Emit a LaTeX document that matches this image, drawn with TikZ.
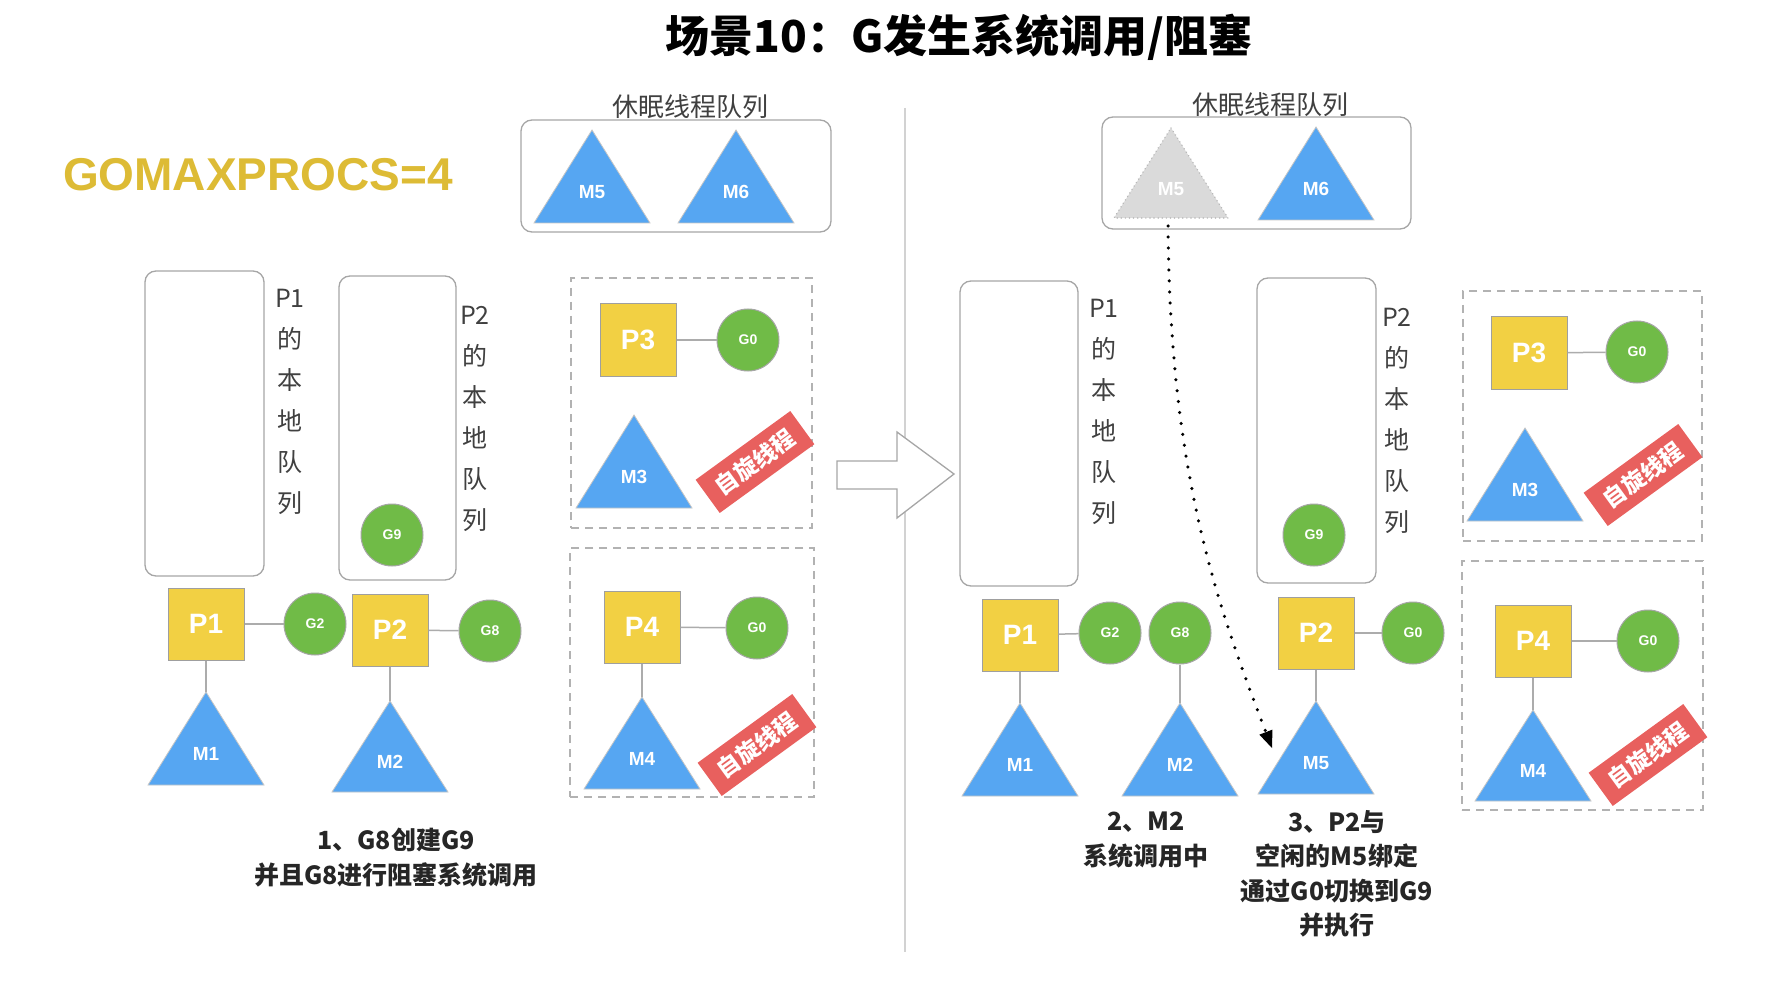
\documentclass[tikz,border=0pt]{standalone}
\usepackage{fontspec}
\setmainfont{Noto Sans CJK SC}
\newfontfamily\lat{Liberation Sans}
\usetikzlibrary{arrows.meta}
\definecolor{pyellow}{HTML}{F2D043}
\definecolor{ggreen}{HTML}{70BB47}
\definecolor{mblue}{HTML}{56A6F2}
\definecolor{bred}{HTML}{E8605E}
\definecolor{gold}{HTML}{DDBB35}
\definecolor{sleepgray}{HTML}{DADADA}
\tikzset{
 pbox/.style={draw=gray!75, line width=1pt, fill=pyellow, minimum width=76pt, minimum height=72pt, inner sep=0pt, text=white, font=\lat\bfseries\fontsize{28}{30}\selectfont},
 gcirc/.style={circle, draw=gray!70, line width=1pt, fill=ggreen, minimum size=62pt, inner sep=0pt, text=white, font=\lat\bfseries\fontsize{14}{16}\selectfont},
 link/.style={draw=gray!65, line width=1.5pt},
 queue/.style={draw=gray!70, line width=1.3pt, rounded corners=11pt, inner sep=0pt},
 spinbox/.style={draw=gray!60, line width=1.5pt, dash pattern=on 8pt off 6pt, inner sep=0pt},
 vtext/.style={align=center, font=\fontsize{25}{41}\selectfont, text=black!75, inner sep=0pt},
 mlab/.style={text=white, font=\lat\bfseries\fontsize{19}{20}\selectfont},
 banner/.style={fill=bred, text=white, rotate=36, minimum width=117pt, minimum height=41pt, inner sep=0pt, font=\bfseries\fontsize{23}{24}\selectfont},
 note/.style={align=center, font=\bfseries\fontsize{25}{35}\selectfont, text=black!85},
 sleeplab/.style={font=\fontsize{26}{28}\selectfont, text=black!75},
}
% #1 name of apex coordinate, #2 apex x, #3 apex y, #4 bottom y, #5 label
\newcommand{\MTri}[5]{%
  \fill[mblue, draw=gray!45, line width=0.8pt] (#2,#3) -- ({#2+58},#4) -- ({#2-58},#4) -- cycle;
  \coordinate (#1) at (#2,#3);
  \node[mlab] (#1lab) at (#2,{#3+0.67*(#4-#3)}) {#5};
}
\begin{document}
\begin{tikzpicture}[x=1pt, y=-1pt]
\useasboundingbox[fill=white] (0,0) rectangle (1778,984);

% title and header
\node[font=\bfseries\fontsize{44}{48}\selectfont] (title) at (959,37) {场景10：G发生系统调用/阻塞};
\node[font=\lat\bfseries\fontsize{46}{50}\selectfont, text=gold] (gmp) at (258,175) {GOMAXPROCS=4};

% divider
\coordinate (divtop) at (905,108);
\coordinate (divbot) at (905,952);
\draw[gray!35, line width=1.5pt] (divtop) -- (divbot);

% hollow arrow
\draw[fill=white, draw=gray!70, line width=1.3pt] (837,461) -- (897,461) -- (897,432) -- (954,474) -- (897,518) -- (897,489) -- (837,489) -- cycle;

% ===== LEFT =====
\node[sleeplab] (sl1) at (690,107) {休眠线程队列};
\node[queue, minimum width=310pt, minimum height=112pt] (sleepL) at (676,176) {};
\MTri{m5L}{592}{130}{223}{M5}
\MTri{m6L}{736}{130}{223}{M6}

\node[queue, minimum width=119pt, minimum height=305pt] (q1L) at (204.5,423.5) {};
\node[vtext] (q1Ltxt) at (290,402) {P1\\的\\本\\地\\队\\列};
\node[queue, minimum width=117pt, minimum height=304pt] (q2L) at (397.5,428) {};
\node[vtext] (q2Ltxt) at (475,419) {P2\\的\\本\\地\\队\\列};
\node[gcirc] (g9L) at (392,535) {G9};

\node[pbox] (p1L) at (206,624) {P1};
\node[gcirc] (g2L) at (315,624) {G2};
\node[pbox] (p2L) at (390,630) {P2};
\node[gcirc] (g8L) at (490,631) {G8};
\MTri{m1L}{206}{692}{785}{M1}
\MTri{m2L}{390}{701}{792}{M2}
\draw[link] (p1L) -- (g2L);
\draw[link] (p2L) -- (g8L);
\draw[link] (p1L.south) -- (m1L);
\draw[link] (p2L.south) -- (m2L);

\node[spinbox, minimum width=241pt, minimum height=250pt] (s3L) at (691.5,403) {};
\node[pbox] (p3L) at (638,340) {P3};
\node[gcirc] (g03L) at (748,340) {G0};
\draw[link] (p3L) -- (g03L);
\MTri{m3L}{634}{415}{508}{M3}
\node[banner] (b3L) at (755,462) {自旋线程};

\node[spinbox, minimum width=244pt, minimum height=249pt] (s4L) at (692,672.5) {};
\node[pbox] (p4L) at (642,627) {P4};
\node[gcirc] (g04L) at (757,628) {G0};
\draw[link] (p4L) -- (g04L);
\MTri{m4L}{642}{697}{789}{M4}
\draw[link] (p4L.south) -- (m4L);
\node[banner] (b4L) at (757,745) {自旋线程};

\node[note] (n1) at (396,858) {1、G8创建G9\\并且G8进行阻塞系统调用};

% ===== RIGHT =====
\node[sleeplab] (sl2) at (1270,105) {休眠线程队列};
\node[queue, minimum width=309pt, minimum height=112pt] (sleepR) at (1256.5,173) {};
\fill[sleepgray, draw=gray!55, line width=1.6pt, dash pattern=on 0.1pt off 4pt, line cap=round] (1171,128) -- (1228,218) -- (1114,218) -- cycle;
\node[mlab] (m5Rglab) at (1171,189) {M5};
\coordinate (m5Rgbot) at (1168,226);
\MTri{m6R}{1316}{127}{220}{M6}

\node[queue, minimum width=118pt, minimum height=305pt] (q1R) at (1019,433.5) {};
\node[vtext] (q1Rtxt) at (1104,412) {P1\\的\\本\\地\\队\\列};
\node[queue, minimum width=119pt, minimum height=305pt] (q2R) at (1316.5,430.5) {};
\node[vtext] (q2Rtxt) at (1397,421) {P2\\的\\本\\地\\队\\列};
\node[gcirc] (g9R) at (1314,535) {G9};

\node[pbox] (p1R) at (1020,635) {P1};
\node[gcirc] (g2R) at (1110,633) {G2};
\node[gcirc] (g8R) at (1180,633) {G8};
\node[pbox] (p2R) at (1316,633) {P2};
\node[gcirc] (g0R) at (1413,633) {G0};
\MTri{m1R}{1020}{703}{796}{M1}
\MTri{m2R}{1180}{703}{796}{M2}
\MTri{m5R}{1316}{701}{794}{M5}
\draw[link] (p1R) -- (g2R);
\draw[link] (p2R) -- (g0R);
\draw[link] (p1R.south) -- (m1R);
\draw[link] (g8R.south) -- (m2R);
\draw[link] (p2R.south) -- (m5R);

\node[spinbox, minimum width=239pt, minimum height=250pt] (s3R) at (1582.5,416) {};
\node[pbox] (p3R) at (1529,353) {P3};
\node[gcirc] (g03R) at (1637,352) {G0};
\draw[link] (p3R) -- (g03R);
\MTri{m3R}{1525}{428}{521}{M3}
\node[banner] (b3R) at (1643,475) {自旋线程};

\node[spinbox, minimum width=241pt, minimum height=249pt] (s4R) at (1582.5,685.5) {};
\node[pbox] (p4R) at (1533,641) {P4};
\node[gcirc] (g04R) at (1648,641) {G0};
\draw[link] (p4R) -- (g04R);
\MTri{m4R}{1533}{710}{801}{M4}
\draw[link] (p4R.south) -- (m4R);
\node[banner] (b4R) at (1648,755) {自旋线程};

% dotted arrow
\coordinate (m5Rin) at (1272,748);
\draw[black, line width=3.5pt, line cap=round, dash pattern=on 0pt off 11pt, -{Triangle[length=17pt,width=14pt,line width=0pt]}] (m5Rgbot) .. controls (1170,470) and (1215,600) .. (m5Rin);

\node[note] (n2) at (1146,840) {2、M2\\系统调用中};
\node[note, font=\bfseries\fontsize{25}{34.5}\selectfont] (n3) at (1337,874) {3、P2与\\空闲的M5绑定\\通过G0切换到G9\\并执行};
\end{tikzpicture}
\end{document}
